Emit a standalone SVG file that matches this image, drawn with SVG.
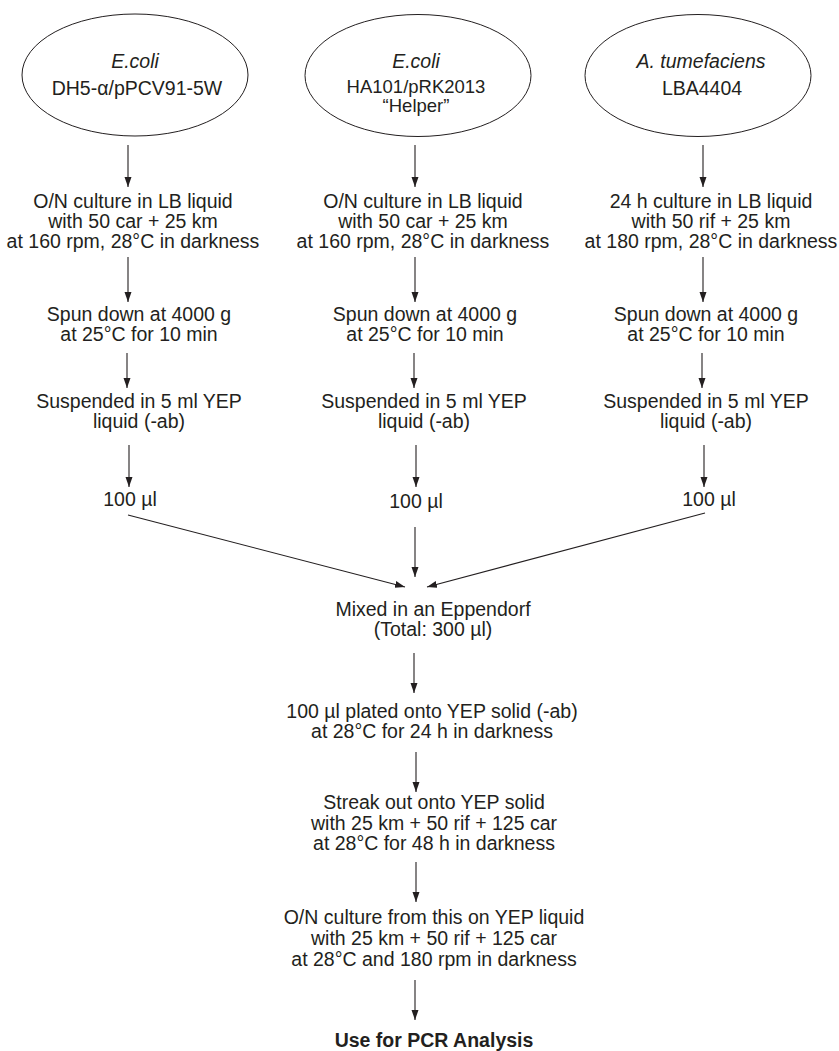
<svg xmlns="http://www.w3.org/2000/svg" width="839" height="1051" viewBox="0 0 839 1051">
<style>
  text { font-family: "Liberation Sans", Arial, sans-serif; font-size: 19.5px; fill: #231f20; text-anchor: middle; }
  .it { font-style: italic; }
  .b { font-weight: bold; }
  .sm { font-size: 18.5px; }
  .node ellipse { fill: none; stroke: #231f20; stroke-width: 1; }
  .conn line { stroke: #231f20; stroke-width: 1.1; marker-end: url(#ah); }
</style>
<defs>
  <marker id="ah" markerUnits="userSpaceOnUse" markerWidth="10" markerHeight="8" refX="10" refY="3.5" orient="auto">
    <path d="M0,0 L10,3.5 L0,7 z" fill="#231f20"/>
  </marker>
</defs>
<rect width="839" height="1051" fill="#ffffff"/>

<g id="n-ecoli1" class="node">
  <ellipse cx="135" cy="75" rx="113" ry="61"/>
  <text x="135" y="68" class="it">E.coli</text>
  <text x="137" y="95">DH5-α/pPCV91-5W</text>
</g>
<g id="n-ecoli2" class="node">
  <ellipse cx="418" cy="75.5" rx="113" ry="61"/>
  <text x="416" y="68" class="it">E.coli</text>
  <text x="416" y="93" class="sm">HA101/pRK2013</text>
  <text x="416" y="112" class="sm">“Helper”</text>
</g>
<g id="n-agro" class="node">
  <ellipse cx="698" cy="75.5" rx="113" ry="61"/>
  <text x="701" y="68" class="it">A. tumefaciens</text>
  <text x="702" y="95">LBA4404</text>
</g>

<g id="n-culture1" class="node">
  <text x="133" y="208">O/N culture in LB liquid</text>
  <text x="133" y="228">with 50 car + 25 km</text>
  <text x="133" y="248">at 160 rpm, 28°C in darkness</text>
</g>
<g id="n-culture2" class="node">
  <text x="423" y="208">O/N culture in LB liquid</text>
  <text x="423" y="228">with 50 car + 25 km</text>
  <text x="423" y="248">at 160 rpm, 28°C in darkness</text>
</g>
<g id="n-culture3" class="node">
  <text x="711" y="208">24 h culture in LB liquid</text>
  <text x="711" y="228">with 50 rif + 25 km</text>
  <text x="711" y="248">at 180 rpm, 28°C in darkness</text>
</g>

<g id="n-spun1" class="node">
  <text x="139" y="321">Spun down at 4000 g</text>
  <text x="139" y="341">at 25°C for 10 min</text>
</g>
<g id="n-spun2" class="node">
  <text x="425" y="321">Spun down at 4000 g</text>
  <text x="425" y="341">at 25°C for 10 min</text>
</g>
<g id="n-spun3" class="node">
  <text x="706" y="321">Spun down at 4000 g</text>
  <text x="706" y="341">at 25°C for 10 min</text>
</g>

<g id="n-susp1" class="node">
  <text x="139" y="408">Suspended in 5 ml YEP</text>
  <text x="139" y="428">liquid (-ab)</text>
</g>
<g id="n-susp2" class="node">
  <text x="424" y="408">Suspended in 5 ml YEP</text>
  <text x="424" y="428">liquid (-ab)</text>
</g>
<g id="n-susp3" class="node">
  <text x="706" y="408">Suspended in 5 ml YEP</text>
  <text x="706" y="428">liquid (-ab)</text>
</g>

<g id="n-vol1" class="node"><text x="130" y="506">100 µl</text></g>
<g id="n-vol2" class="node"><text x="416" y="508">100 µl</text></g>
<g id="n-vol3" class="node"><text x="709" y="506">100 µl</text></g>

<g id="n-mixed" class="node">
  <text x="433" y="616">Mixed in an Eppendorf</text>
  <text x="433" y="636">(Total: 300 µl)</text>
</g>
<g id="n-plated" class="node">
  <text x="432" y="718">100 µl plated onto YEP solid (-ab)</text>
  <text x="432" y="738">at 28°C for 24 h in darkness</text>
</g>
<g id="n-streak" class="node">
  <text x="434" y="809">Streak out onto YEP solid</text>
  <text x="434" y="830">with 25 km + 50 rif + 125 car</text>
  <text x="434" y="850">at 28°C for 48 h in darkness</text>
</g>
<g id="n-on" class="node">
  <text x="434" y="924">O/N culture from this on YEP liquid</text>
  <text x="434" y="945">with 25 km + 50 rif + 125 car</text>
  <text x="434" y="966">at 28°C and 180 rpm in darkness</text>
</g>
<g id="n-pcr" class="node">
  <text x="434" y="1047" class="b">Use for PCR Analysis</text>
</g>

<g id="connectors" class="conn">
  <line x1="128" y1="145" x2="128" y2="187"/>
  <line x1="415" y1="145" x2="415" y2="187"/>
  <line x1="703" y1="145" x2="703" y2="187"/>

  <line x1="128" y1="257" x2="128" y2="302"/>
  <line x1="415" y1="257" x2="415" y2="302"/>
  <line x1="703" y1="257" x2="703" y2="302"/>

  <line x1="127" y1="353" x2="127" y2="388"/>
  <line x1="414" y1="353" x2="414" y2="388"/>
  <line x1="702" y1="353" x2="702" y2="388"/>

  <line x1="129" y1="445" x2="129" y2="487"/>
  <line x1="416" y1="445" x2="416" y2="487"/>
  <line x1="704" y1="445" x2="704" y2="487"/>

  <line x1="128" y1="515" x2="405" y2="587"/>
  <line x1="415" y1="527" x2="415" y2="577"/>
  <line x1="705" y1="513" x2="427" y2="587"/>

  <line x1="414" y1="653" x2="414" y2="693"/>
  <line x1="416" y1="752" x2="416" y2="792"/>
  <line x1="416" y1="862" x2="416" y2="902"/>
  <line x1="415" y1="980" x2="415" y2="1020"/>
</g>
</svg>
